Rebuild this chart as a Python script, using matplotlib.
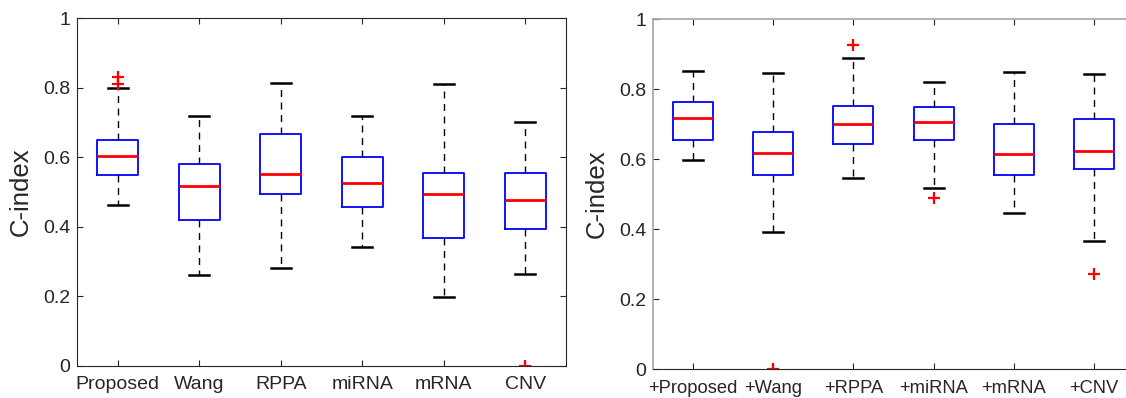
import matplotlib.pyplot as plt
from matplotlib.ticker import FuncFormatter

plt.rcParams['font.family'] = ['Liberation Sans', 'DejaVu Sans']

# left panel: single methods
labels_a = ['Proposed', 'Wang', 'RPPA', 'miRNA', 'mRNA', 'CNV']
whislo_a = [0.464, 0.262, 0.283, 0.343, 0.199, 0.266]
q1_a = [0.549, 0.420, 0.495, 0.457, 0.369, 0.393]
med_a = [0.605, 0.519, 0.553, 0.527, 0.496, 0.478]
q3_a = [0.651, 0.581, 0.666, 0.600, 0.554, 0.555]
whishi_a = [0.800, 0.720, 0.815, 0.720, 0.812, 0.703]
fliers_a = [[0.832, 0.810], [], [], [], [], [0.0]]

# right panel: combined variants
labels_b = ['+Proposed', '+Wang', '+RPPA', '+miRNA', '+mRNA', '+CNV']
whislo_b = [0.597, 0.392, 0.547, 0.518, 0.447, 0.367]
q1_b = [0.655, 0.554, 0.644, 0.656, 0.554, 0.571]
med_b = [0.718, 0.618, 0.701, 0.706, 0.615, 0.623]
q3_b = [0.763, 0.678, 0.752, 0.750, 0.700, 0.715]
whishi_b = [0.852, 0.847, 0.890, 0.821, 0.850, 0.844]
fliers_b = [[], [0.0], [0.925], [0.489], [], [0.271]]

W, H = 1126, 398
fig = plt.figure(figsize=(W / 100, H / 100), dpi=100)
ax1 = fig.add_axes([77 / W, (H - 366) / H, 489 / W, (366 - 18.3) / H])
ax2 = fig.add_axes([653 / W, (H - 369.3) / H, 481 / W, (369.3 - 19) / H])

text_col = '#262626'


def draw_panel(ax, labels, whislo, q1, med, q3, whishi, fliers, label_x, xsize):
    stats = []
    for i in range(len(labels)):
        stats.append({'label': labels[i], 'whislo': whislo[i], 'q1': q1[i],
                      'med': med[i], 'q3': q3[i], 'whishi': whishi[i],
                      'fliers': fliers[i]})
    ax.bxp(stats, positions=range(1, len(labels) + 1), widths=0.5,
           showfliers=True,
           boxprops=dict(color='blue', linewidth=1.3),
           medianprops=dict(color='red', linewidth=2),
           whiskerprops=dict(color='black', linestyle=(0, (5, 4)), linewidth=1),
           capprops=dict(color='black', linewidth=1.8),
           flierprops=dict(marker='+', markeredgecolor='red', markersize=8,
                           markeredgewidth=1.6, linestyle='none'))
    ax.set_xlim(0.5, 6.5)
    ax.set_ylim(0, 1)
    ax.set_yticks([0, 0.2, 0.4, 0.6, 0.8, 1.0])
    ax.yaxis.set_major_formatter(FuncFormatter(lambda v, p: f'{v:g}'))
    ax.set_xticks(range(1, len(labels) + 1))
    ax.set_xticklabels(labels)
    ax.tick_params(direction='in', length=4.5, width=0.8, labelsize=14,
                   colors=text_col, top=True, right=True, pad=5)
    ax.tick_params(axis='x', pad=7.5, labelsize=xsize)
    ax.set_ylabel('C-index', fontsize=18.5, color=text_col)
    ax.yaxis.set_label_coords(label_x, 0.5)
    for s in ax.spines.values():
        s.set_color(text_col)
        s.set_linewidth(0.8)


draw_panel(ax1, labels_a, whislo_a, q1_a, med_a, q3_a, whishi_a, fliers_a, -0.09, 14)
draw_panel(ax2, labels_b, whislo_b, q1_b, med_b, q3_b, whishi_b, fliers_b, -0.0917, 13.2)
# right panel frame is lighter on the left and top
ax2.spines['left'].set_color('#a6a6a6')
ax2.spines['top'].set_color('#a6a6a6')
ax2.spines['left'].set_linewidth(1.2)
ax2.spines['top'].set_linewidth(1.2)

fig.savefig('out.png', dpi=100)
